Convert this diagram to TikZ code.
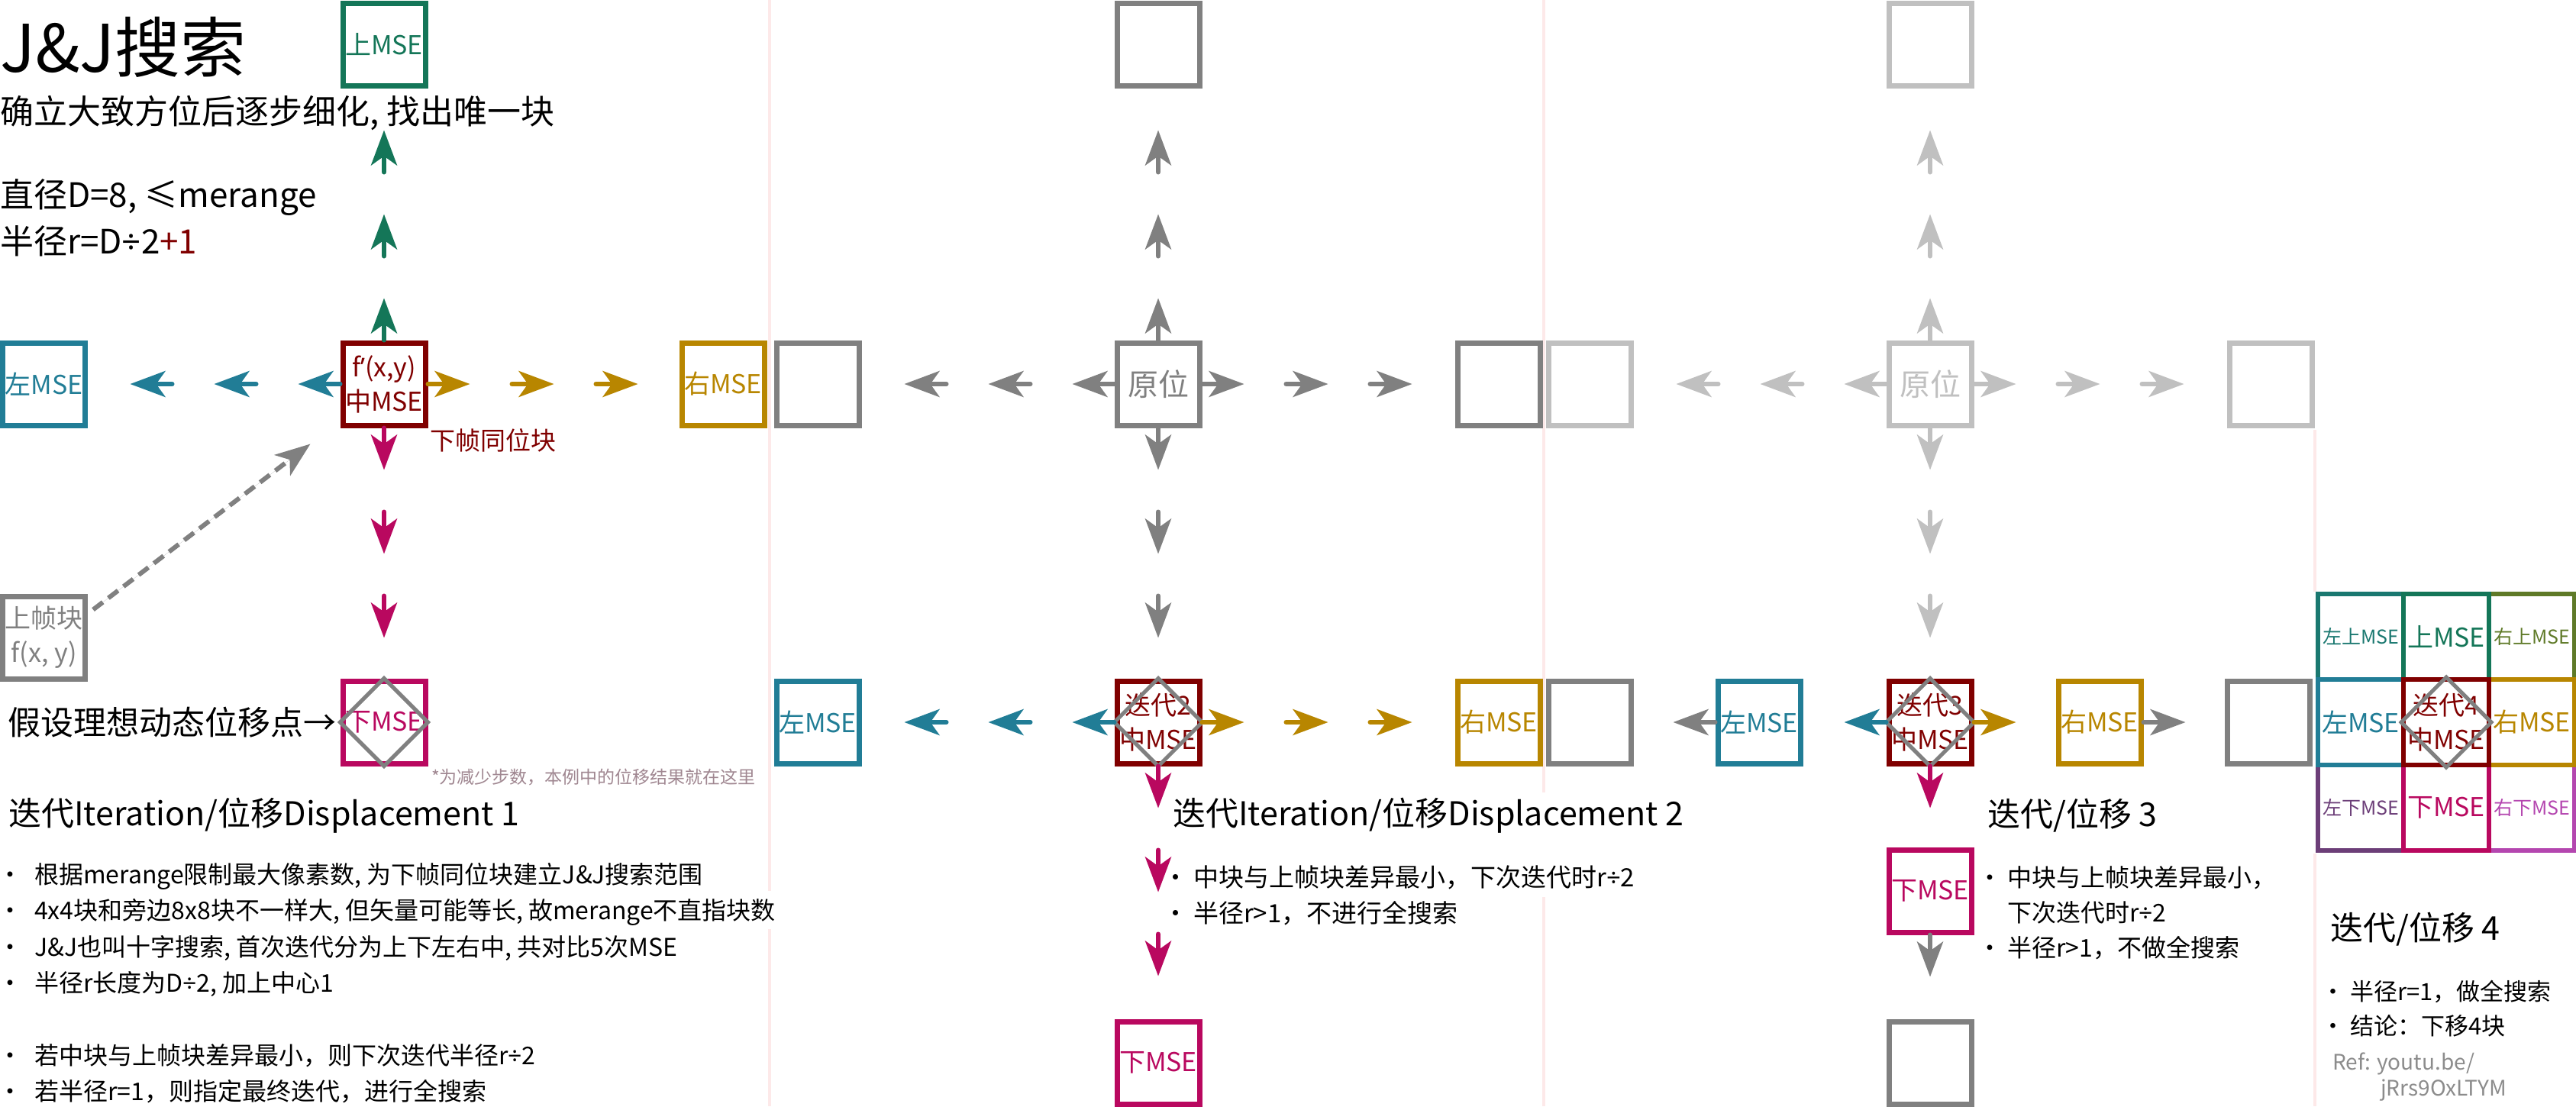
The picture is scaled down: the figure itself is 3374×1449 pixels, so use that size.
\documentclass[tikz,border=0pt]{standalone}
\usepackage{fontspec}
\setmainfont{Noto Sans CJK SC}
\newfontfamily\latinfont{Noto Sans}
\usetikzlibrary{arrows.meta}
\definecolor{cgreen}{RGB}{20,118,88}
\definecolor{cteal}{RGB}{33,125,150}
\definecolor{cgold}{RGB}{184,134,0}
\definecolor{cred}{RGB}{128,0,0}
\definecolor{cmag}{RGB}{185,8,95}
\definecolor{cgray}{RGB}{128,128,128}
\definecolor{clight}{RGB}{192,192,192}
\definecolor{cpink}{RGB}{253,233,233}
\definecolor{cnote}{RGB}{160,135,145}
\definecolor{cteal2}{RGB}{26,120,112}
\definecolor{colive}{RGB}{95,122,40}
\definecolor{cpurple}{RGB}{108,62,120}
\definecolor{corchid}{RGB}{180,70,175}
\definecolor{cref}{RGB}{140,140,140}
\newcommand\fsz[2]{\fontsize{#1pt}{#2pt}\selectfont}
\newcommand\bul[1]{\makebox[0pt][c]{·}\hspace{#1pt}}
\newcommand\dv{{\latinfont ÷}}
\newcommand\triarr[4]{\foreach \oo in {0,110,220}{\draw[arr=#4] ([shift={(#2*\oo,#3*\oo)}]#1) -- ++(#2*55,#3*55);}}
\newcommand\onearr[4]{\draw[arr=#4] (#1) -- ++(#2*55,#3*55);}
\newcommand\dmd[1]{\draw[dia] (#1.north) -- (#1.east) -- (#1.south) -- (#1.west) -- cycle;}
\tikzset{
  blk/.style={draw=#1, line width=7pt, minimum width=108pt, minimum height=108pt, inner sep=0pt, fill=white, text=#1, align=center, font=\fsz{34}{45}},
  cell/.style={draw=#1, line width=6pt, minimum width=112pt, minimum height=112pt, inner sep=0pt, fill=white, text=#1, align=center},
  arr/.style={draw=#1, fill=#1, line width=6pt, line cap=round, -{Stealth[length=46pt,width=34pt,inset=12pt]}},
  dia/.style={draw=cgray, line width=5pt, line join=miter},
  pinkline/.style={draw=cpink, line width=4pt},
  txt/.style={anchor=west, inner sep=0pt, align=left},
}
\begin{document}
\begin{tikzpicture}[x=1pt,y=-1pt]
\fill[white] (0,0) rectangle (3374,1449);
\useasboundingbox (0,0) rectangle (3374,1449);
% dividers
\draw[pinkline] (1008,0) -- (1008,1167) (1008,1217) -- (1008,1449);
\draw[pinkline] (2022,0) -- (2022,1038) (2022,1175) -- (2022,1449);
\draw[pinkline] (3032,563) -- (3032,775) (3032,1118) -- (3032,1449);

% ---------- panel 1 ----------
\node[txt, font=\fsz{86}{96}] (title) at (0,62) {J\&J搜索};
\node[txt, font=\fsz{44}{50}] (sub) at (0,148) {确立大致方位后逐步细化, 找出唯一块};
\node[txt, font=\fsz{44}{50}] (dia1) at (0,258) {直径D=8, ≤merange};
\node[txt, font=\fsz{44}{50}] (rad1) at (0,316) {半径r=D\dv 2{\color{cred}+1}};

\node[blk=cred] (c1) at (503,503) {f{\latinfont ’}(x,y)\\中MSE};
\node[blk=cgreen] (u1) at (503,58) {上MSE};
\node[blk=cteal] (l1) at (57.5,503) {左MSE};
\node[blk=cgold] (r1) at (947,503) {右MSE};
\node[blk=cmag] (d1) at (503,946) {下MSE};
\dmd{d1}
\node[blk=cgray] (p1) at (57.5,835) {上帧块\\f(x, y)};
\triarr{c1.north}{0}{-1}{cgreen}
\triarr{c1.west}{-1}{0}{cteal}
\triarr{c1.east}{1}{0}{cgold}
\triarr{c1.south}{0}{1}{cmag}
\draw[arr=cgray, dash pattern=on 16pt off 9pt, line cap=butt] ([xshift=7pt,yshift=-21pt]p1.north east) -- ([xshift=-39pt,yshift=-21pt]c1.south west);
\node[txt, font=\fsz{33}{40}, text=cred] (same) at (563,577) {下帧同位块};
\node[anchor=east, inner sep=0pt, font=\fsz{43}{50}] (ideal) at (441,946) {假设理想动态位移点→};
\node[txt, font=\fsz{23}{28}, text=cnote] (note) at (565,1018) {*为减少步数，本例中的位移结果就在这里};

\node[txt, font=\fsz{43}{50}] (it1) at (11,1068) {迭代Iteration/位移Displacement 1};
\node[txt, font=\fsz{32}{40}] (b11) at (13,1148) {\bul{32}根据merange限制最大像素数, 为下帧同位块建立J\&J搜索范围};
\node[txt, font=\fsz{32}{40}] (b12) at (13,1195) {\bul{32}4x4块和旁边8x8块不一样大, 但矢量可能等长, 故merange不直指块数};
\node[txt, font=\fsz{32}{40}] (b13) at (13,1242) {\bul{32}J\&J也叫十字搜索, 首次迭代分为上下左右中, 共对比5次MSE};
\node[txt, font=\fsz{32}{40}] (b14) at (13,1289) {\bul{32}半径r长度为D\dv 2, 加上中心1};
\node[txt, font=\fsz{32}{40}] (b15) at (13,1383) {\bul{32}若中块与上帧块差异最小，则下次迭代半径r\dv 2};
\node[txt, font=\fsz{32}{40}] (b16) at (13,1430) {\bul{32}若半径r=1，则指定最终迭代，进行全搜索};

% ---------- panel 2 ----------
\node[blk=cgray] (g2u) at (1517,58) {};
\node[blk=cgray] (g2l) at (1071,503) {};
\node[blk=cgray, font=\fsz{40}{45}] (o2) at (1517,503) {原位};
\node[blk=cgray] (g2r) at (1963,503) {};
\triarr{o2.north}{0}{-1}{cgray}
\triarr{o2.west}{-1}{0}{cgray}
\triarr{o2.east}{1}{0}{cgray}
\triarr{o2.south}{0}{1}{cgray}

\node[blk=cred] (c2) at (1517,946) {迭代2\\中MSE};
\node[blk=cteal] (l2) at (1071,946) {左MSE};
\node[blk=cgold] (r2) at (1963,946) {右MSE};
\node[blk=cmag] (d2) at (1517,1392) {下MSE};
\node[blk=cgray] (x2) at (2082,946) {};
\dmd{c2}
\triarr{c2.west}{-1}{0}{cteal}
\triarr{c2.east}{1}{0}{cgold}
\triarr{c2.south}{0}{1}{cmag}

\node[txt, font=\fsz{43}{50}] (it2) at (1536,1068) {迭代Iteration/位移Displacement 2};
\node[txt, font=\fsz{33}{40}] (b21) at (1540,1149) {\bul{23}中块与上帧块差异最小，下次迭代时r\dv 2};
\node[txt, font=\fsz{33}{40}] (b22) at (1540,1196) {\bul{23}半径r>1，不进行全搜索};

% ---------- panel 3 ----------
\node[blk=clight] (g3u) at (2528,58) {};
\node[blk=clight] (g3l) at (2082,503) {};
\node[blk=clight, font=\fsz{40}{45}] (o3) at (2528,503) {原位};
\node[blk=clight] (g3r) at (2974,503) {};
\triarr{o3.north}{0}{-1}{clight}
\triarr{o3.west}{-1}{0}{clight}
\triarr{o3.east}{1}{0}{clight}
\triarr{o3.south}{0}{1}{clight}

\node[blk=cred] (c3) at (2528,946) {迭代3\\中MSE};
\node[blk=cteal] (l3) at (2304,946) {左MSE};
\node[blk=cgold] (r3) at (2750,946) {右MSE};
\node[blk=cmag] (d3) at (2528,1167) {下MSE};
\node[blk=cgray] (x3r) at (2971,946) {};
\node[blk=cgray] (x3d) at (2528,1392) {};
\dmd{c3}
\onearr{c3.west}{-1}{0}{cteal}
\onearr{c3.east}{1}{0}{cgold}
\onearr{c3.south}{0}{1}{cmag}
\onearr{l3.west}{-1}{0}{cgray}
\onearr{r3.east}{1}{0}{cgray}
\onearr{d3.south}{0}{1}{cgray}

\node[txt, font=\fsz{43}{50}] (it3) at (2603,1068) {迭代/位移 3};
\node[txt, font=\fsz{32}{40}] (b31) at (2606,1150) {\bul{23}中块与上帧块差异最小，};
\node[txt, font=\fsz{32}{40}] (b32) at (2629,1195) {下次迭代时r\dv 2};
\node[txt, font=\fsz{32}{40}] (b33) at (2606,1242) {\bul{23}半径r>1，不做全搜索};

% ---------- panel 4 ----------
\node[cell=cteal2, font=\fsz{25}{30}] (g11) at (3092,834) {左上MSE};
\node[cell=colive, font=\fsz{25}{30}] (g13) at (3316,834) {右上MSE};
\node[cell=cpurple, font=\fsz{25}{30}] (g31) at (3092,1058) {左下MSE};
\node[cell=corchid, font=\fsz{25}{30}] (g33) at (3316,1058) {右下MSE};
\node[cell=cgreen, font=\fsz{34}{40}] (g12) at (3204,834) {上MSE};
\node[cell=cteal, font=\fsz{34}{40}] (g21) at (3092,946) {左MSE};
\node[cell=cgold, font=\fsz{34}{40}] (g23) at (3316,946) {右MSE};
\node[cell=cmag, font=\fsz{34}{40}] (g32) at (3204,1058) {下MSE};
\node[cell=cred, font=\fsz{34}{45}] (g22) at (3204,946) {迭代4\\中MSE};
\dmd{g22}

\node[txt, font=\fsz{43}{50}] (it4) at (3052,1217) {迭代/位移 4};
\node[txt, font=\fsz{31}{40}] (b41) at (3056,1299) {\bul{22}半径r=1，做全搜索};
\node[txt, font=\fsz{31}{40}] (b42) at (3056,1344) {\bul{22}结论：下移4块};
\node[txt, font=\fsz{28}{34}, text=cref] (ref1) at (3055,1393) {Ref: youtu.be/};
\node[txt, font=\fsz{28}{34}, text=cref] (ref2) at (3118,1428) {jRrs9OxLTYM};
\end{tikzpicture}
\end{document}
